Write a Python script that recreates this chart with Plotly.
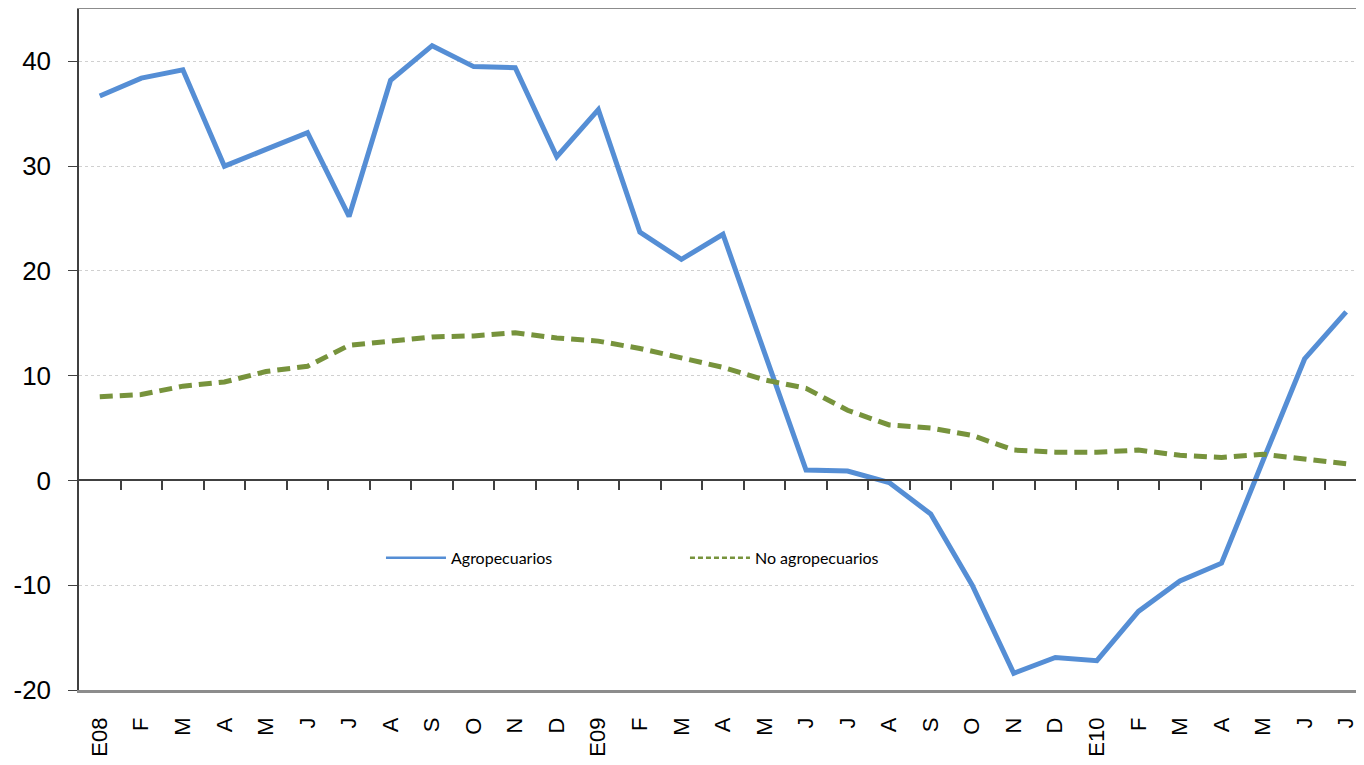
import plotly.graph_objects as go

months = ["E08", "F", "M", "A", "M", "J", "J", "A", "S", "O", "N", "D",
          "E09", "F", "M", "A", "M", "J", "J", "A", "S", "O", "N", "D",
          "E10", "F", "M", "A", "M", "J", "J"]
agro = [36.7, 38.4, 39.2, 30.0, 31.6, 33.2, 25.2, 38.2, 41.5, 39.5, 39.4, 30.9,
        35.4, 23.7, 21.1, 23.5, 12.2, 1.0, 0.9, -0.2, -3.2, -10.0, -18.4, -16.9,
        -17.2, -12.5, -9.6, -7.9, 1.9, 11.6, 16.1]
no_agro = [8.0, 8.2, 9.0, 9.4, 10.4, 10.9, 12.9, 13.3, 13.7, 13.8, 14.1, 13.6,
           13.3, 12.6, 11.7, 10.8, 9.6, 8.8, 6.7, 5.3, 5.0, 4.3, 2.9, 2.7,
           2.7, 2.9, 2.4, 2.2, 2.5, 2.1, 1.6]
yticks = [-20, -10, 0, 10, 20, 30, 40]
yticktext = ["-20", "-10", "0", "10", "20", "30", "40"]

BLUE = "#558ED5"
GREEN = "#77933C"

x = list(range(len(months)))
fig = go.Figure()
fig.add_trace(go.Scatter(x=x, y=agro, mode="lines", name="Agropecuarios",
                         line=dict(color=BLUE, width=5), showlegend=False))
fig.add_trace(go.Scatter(x=x, y=no_agro, mode="lines", name="No agropecuarios",
                         line=dict(color=GREEN, width=5, dash="13px,7px"), showlegend=False))
# legend entries (thin lines, as in reference legend)
fig.add_trace(go.Scatter(x=[None], y=[None], mode="lines", name="Agropecuarios",
                         line=dict(color=BLUE, width=2.5)))
fig.add_trace(go.Scatter(x=[None], y=[None], mode="lines", name="No agropecuarios",
                         line=dict(color=GREEN, width=2.5, dash="5px,3px")))
# zero-line axis with boundary ticks
fig.add_trace(go.Scatter(x=x, y=[None]*len(x), xaxis="x2", showlegend=False,
                         hoverinfo="skip"))

xr = [-0.5, 30.43]
fig.update_layout(
    width=1356, height=757,
    margin=dict(l=71, r=0, t=1, b=75, autoexpand=False),
    plot_bgcolor="white", paper_bgcolor="white",
    font=dict(family="Liberation Sans", color="black"),
    showlegend=True,
    legend=dict(orientation="h", x=0.235, y=0.194, xanchor="left", yanchor="middle",
                font=dict(family="Lato", size=16, color="black"),
                bgcolor="rgba(0,0,0,0)", itemwidth=60, entrywidth=229),
    xaxis=dict(range=xr, tickmode="array", tickvals=x, ticktext=months,
               tickangle=-90, tickfont=dict(size=22), showgrid=False,
               showline=True, linecolor="#8c8c8c", linewidth=2.5, mirror=True,
               ticks="", zeroline=False, automargin=False, ticklabelstandoff=16),
    xaxis2=dict(range=xr, overlaying="x", anchor="free", position=20/65,
                tickmode="array", tickvals=[i + 0.5 for i in range(30)],
                showticklabels=False, ticks="outside", ticklen=9,
                tickcolor="#404040", tickwidth=1.5,
                showline=True, linecolor="#404040", linewidth=1.5,
                showgrid=False, zeroline=False, automargin=False),
    yaxis=dict(range=[-20, 45], tickmode="array", tickvals=yticks, ticktext=yticktext,
               tickfont=dict(size=26),
               showgrid=True, gridcolor="#d0d0d0", griddash="dot", gridwidth=1,
               showline=True, linecolor="#404040", linewidth=1.5, mirror=False,
               ticks="outside", ticklen=9, tickcolor="#404040",
               zeroline=False, automargin=False, ticklabelstandoff=12),
)
fig.write_html("out.html")
